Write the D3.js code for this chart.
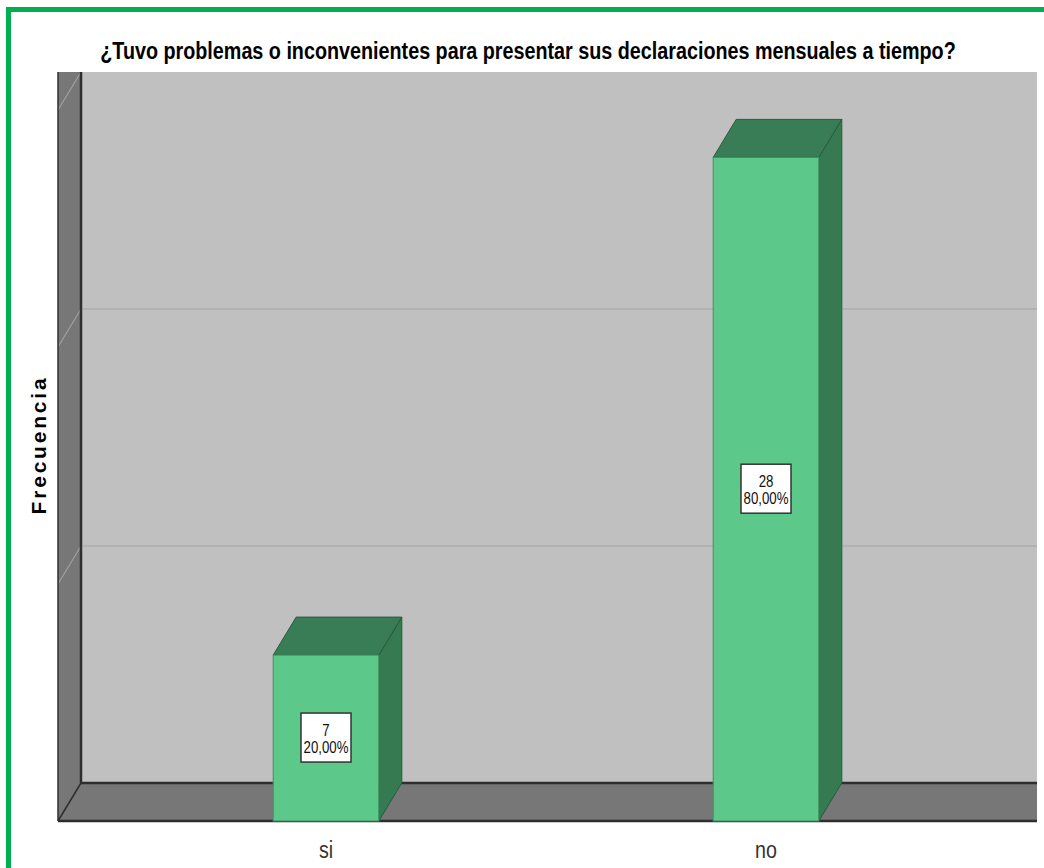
<!DOCTYPE html>
<html>
<head>
<meta charset="utf-8">
<script src="https://cdn.jsdelivr.net/npm/d3@7"></script>
<style>
  body { margin: 0; background: #fff; }
  svg { display: block; }
</style>
</head>
<body>
<div id="chart"></div>
<script>
// data
var categories = ["si", "no"];
var counts = [7, 28];
var percents = ["20,00%", "80,00%"];
var yTicks = [0, 10, 20, 30];
var title = "¿Tuvo problemas o inconvenientes para presentar sus declaraciones mensuales a tiempo?";

var W = 1044, H = 868;
var dx = 23, dy = 38;   // 3d depth offset
var narrow = "'Liberation Sans Narrow', 'Arial Narrow', 'Liberation Sans', Arial, sans-serif";

var svg = d3.select("#chart").append("svg")
  .attr("width", W).attr("height", H);

// green frame (left + top visible)
svg.append("rect")
  .attr("x", 8.5).attr("y", 9.5)
  .attr("width", W + 20).attr("height", H + 20)
  .attr("fill", "none")
  .attr("stroke", "#00b050")
  .attr("stroke-width", 5);

// scales (back plane y, front plane x)
var y = d3.scaleLinear().domain([0, 30]).range([783, 72]);
var x = d3.scaleBand().domain(categories).range([106, 986])
  .paddingInner(0.76).paddingOuter(0.38);

var backLeft = 81, backRight = 1037, plotTop = 72;
var floorBack = y(0), floorFront = y(0) + dy;

// back wall
svg.append("rect")
  .attr("x", backLeft).attr("y", plotTop)
  .attr("width", backRight - backLeft).attr("height", floorBack - plotTop)
  .attr("fill", "#c0c0c0");

// grid lines on back wall
svg.selectAll(".grid").data(yTicks.filter(function(d){ return d > 0 && d < 30; }))
  .enter().append("line")
  .attr("x1", backLeft).attr("x2", backRight)
  .attr("y1", function(d){ return y(d); }).attr("y2", function(d){ return y(d); })
  .attr("stroke", "#b2b2b2").attr("stroke-width", 2);

// left wall
svg.append("path")
  .attr("d", "M" + backLeft + "," + plotTop + "L" + backLeft + "," + floorBack +
    "L" + (backLeft - dx) + "," + floorFront + "L" + (backLeft - dx) + "," + plotTop + "Z")
  .attr("fill", "#777777");

// diagonals on left wall
svg.selectAll(".wallTick").data(yTicks.filter(function(d){ return d > 0; }))
  .enter().append("line")
  .attr("x1", backLeft).attr("y1", function(d){ return y(d); })
  .attr("x2", backLeft - dx).attr("y2", function(d){ return y(d) + dy; })
  .attr("stroke", "#a0a0a0").attr("stroke-width", 1.2);

// floor
svg.append("path")
  .attr("d", "M" + backLeft + "," + floorBack + "L" + backRight + "," + floorBack +
    "L" + backRight + "," + floorFront + "L" + (backLeft - dx) + "," + floorFront + "Z")
  .attr("fill", "#777777");

// edges
svg.append("line").attr("x1", backLeft).attr("x2", backLeft)
  .attr("y1", plotTop).attr("y2", floorBack)
  .attr("stroke", "#2e2e2e").attr("stroke-width", 2.5);
svg.append("line").attr("x1", backLeft - dx).attr("x2", backLeft - dx)
  .attr("y1", plotTop).attr("y2", floorFront)
  .attr("stroke", "#2e2e2e").attr("stroke-width", 1.5);
svg.append("line").attr("x1", backLeft).attr("x2", backRight)
  .attr("y1", floorBack).attr("y2", floorBack)
  .attr("stroke", "#2e2e2e").attr("stroke-width", 2.5);
svg.append("line").attr("x1", backLeft - dx).attr("x2", backRight)
  .attr("y1", floorFront).attr("y2", floorFront)
  .attr("stroke", "#2e2e2e").attr("stroke-width", 2.5);
svg.append("line").attr("x1", backLeft).attr("x2", backLeft - dx)
  .attr("y1", floorBack).attr("y2", floorFront)
  .attr("stroke", "#2e2e2e").attr("stroke-width", 1.5);

// bars
var bars = svg.selectAll(".bar").data(categories).enter().append("g");
bars.each(function(c, i) {
  var g = d3.select(this);
  var x0 = x(c), x1 = x(c) + x.bandwidth();
  var yb = y(counts[i]);           // back top
  var yf = yb + dy;                // front top
  // side
  g.append("path")
    .attr("d", "M" + x1 + "," + yf + "L" + (x1 + dx) + "," + yb + "L" + (x1 + dx) + "," + (floorBack) +
      "L" + x1 + "," + floorFront + "Z")
    .attr("fill", "#367a52").attr("stroke", "#2a5a3e").attr("stroke-width", 1);
  // top
  g.append("path")
    .attr("d", "M" + x0 + "," + yf + "L" + (x0 + dx) + "," + yb + "L" + (x1 + dx) + "," + yb +
      "L" + x1 + "," + yf + "Z")
    .attr("fill", "#387d55").attr("stroke", "#2a5a3e").attr("stroke-width", 1);
  // front
  g.append("rect")
    .attr("x", x0).attr("y", yf)
    .attr("width", x.bandwidth()).attr("height", floorFront - yf)
    .attr("fill", "#5cc98b").attr("stroke", "#3f8f62").attr("stroke-width", 1);

  // label box
  var cx = x0 + x.bandwidth() / 2, cy = (yf + floorFront) / 2;
  g.append("rect")
    .attr("x", cx - 25).attr("y", cy - 25)
    .attr("width", 50).attr("height", 49)
    .attr("fill", "#fff").attr("stroke", "#333").attr("stroke-width", 1.5);
  var lab = g.append("g").attr("transform", "translate(" + cx + "," + cy + ") scale(0.78,1)");
  lab.append("text")
    .attr("x", 0).attr("y", -2)
    .attr("text-anchor", "middle")
    .attr("font-family", narrow)
    .attr("font-size", 17).attr("fill", "#111")
    .text(counts[i]);
  lab.append("text")
    .attr("x", 0).attr("y", 15)
    .attr("text-anchor", "middle")
    .attr("font-family", narrow)
    .attr("font-size", 17).attr("fill", "#111")
    .text(percents[i]);
});

// category labels
svg.selectAll(".xlab").data(categories).enter().append("text")
  .attr("transform", function(d){ return "translate(" + (x(d) + x.bandwidth() / 2) + ",858) scale(0.82,1)"; })
  .attr("text-anchor", "middle")
  .attr("font-family", narrow)
  .attr("font-size", 24).attr("fill", "#333")
  .text(function(d){ return d; });

// title
svg.append("text")
  .attr("transform", "translate(528,59) scale(0.83,1)")
  .attr("text-anchor", "middle")
  .attr("font-family", narrow)
  .attr("font-weight", "bold")
  .attr("font-size", 23.8)
  .attr("fill", "#000")
  .text(title);

// y axis title
svg.append("text")
  .attr("transform", "translate(46,445) rotate(-90)")
  .attr("text-anchor", "middle")
  .attr("font-family", "'Liberation Sans', Arial, sans-serif")
  .attr("font-weight", "bold")
  .attr("font-size", 21)
  .attr("letter-spacing", 2.8)
  .attr("fill", "#000")
  .text("Frecuencia");
</script>
</body>
</html>
